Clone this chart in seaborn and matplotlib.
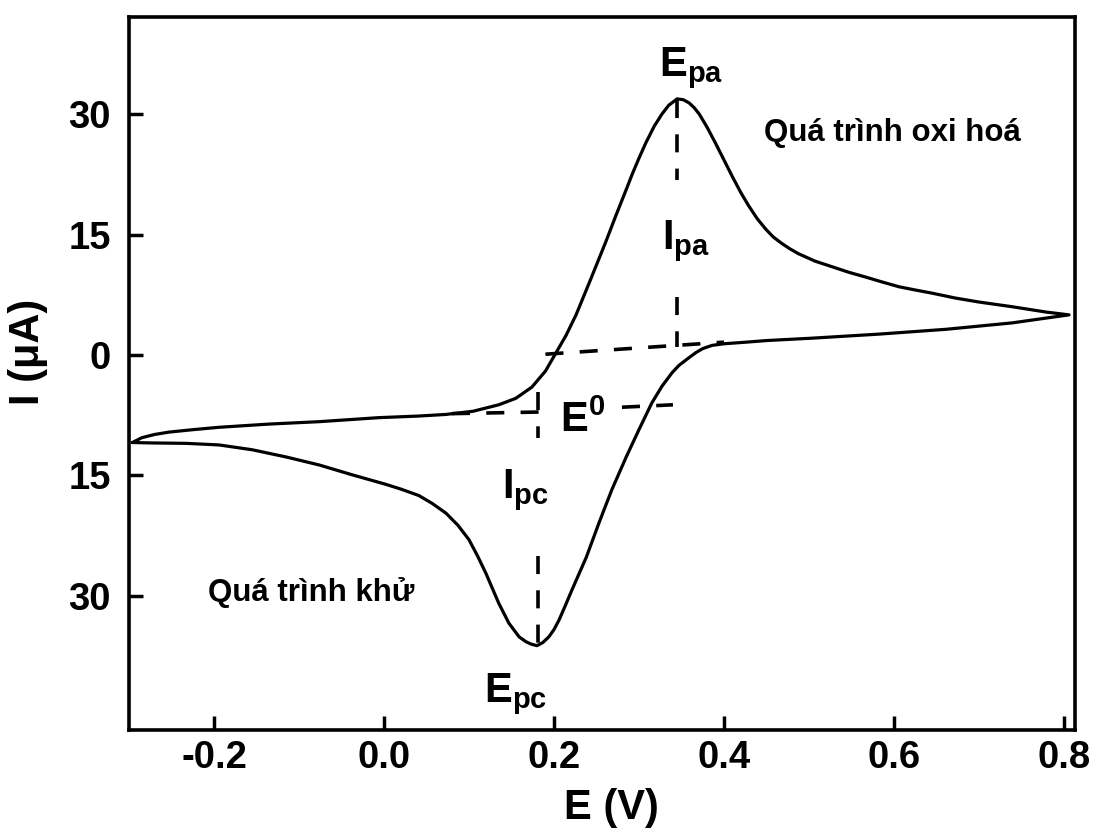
import numpy as np
import pandas as pd
import matplotlib
matplotlib.use('Agg')
import matplotlib.pyplot as plt
import seaborn as sns

# quét thuận (oxi hoá): E tăng dần
E_forward = [-0.296, -0.285, -0.270, -0.253, -0.225, -0.194, -0.135, -0.076, -0.006, 0.041,
             0.073, 0.105, 0.135, 0.155, 0.174, 0.190, 0.202, 0.214, 0.226, 0.240,
             0.253, 0.261, 0.273, 0.285, 0.292, 0.300, 0.308, 0.318, 0.327, 0.335,
             0.345, 0.352, 0.359, 0.365, 0.371, 0.380, 0.390, 0.400, 0.410, 0.420,
             0.429, 0.439, 0.449, 0.458, 0.468, 0.478, 0.488, 0.507, 0.527, 0.547,
             0.567, 0.586, 0.606, 0.625, 0.645, 0.672, 0.700, 0.740, 0.779, 0.806]
I_forward = [-10.9, -10.3, -9.9, -9.6, -9.3, -9.0, -8.6, -8.3, -7.8, -7.6,
             -7.4, -7.0, -6.2, -5.4, -4.0, -2.0, 0.2, 2.4, 5.0, 8.6,
             12.0, 14.1, 17.4, 20.6, 22.5, 24.5, 26.4, 28.5, 30.0, 31.1,
             31.9, 31.8, 31.4, 30.8, 30.0, 28.4, 26.4, 24.3, 22.2, 20.2,
             18.6, 17.0, 15.7, 14.7, 13.9, 13.2, 12.6, 11.7, 11.0, 10.3,
             9.7, 9.1, 8.5, 8.1, 7.7, 7.1, 6.6, 6.0, 5.35, 5.0]

# quét ngược (khử): E giảm dần
E_reverse = [0.806, 0.779, 0.739, 0.661, 0.582, 0.504, 0.450, 0.426, 0.400, 0.386,
             0.375, 0.367, 0.358, 0.347, 0.339, 0.327, 0.315, 0.300, 0.285, 0.268,
             0.253, 0.238, 0.221, 0.213, 0.206, 0.200, 0.194, 0.187, 0.180, 0.173,
             0.167, 0.159, 0.147, 0.135, 0.120, 0.110, 0.100, 0.087, 0.073, 0.057,
             0.041, 0.020, 0.002, -0.038, -0.076, -0.115, -0.155, -0.194, -0.233, -0.273,
             -0.296]
I_reverse = [5.0, 4.6, 4.0, 3.2, 2.6, 2.1, 1.8, 1.6, 1.4, 1.2,
             0.8, 0.3, -0.4, -1.3, -2.2, -3.9, -6.0, -9.3, -12.7, -16.8,
             -20.9, -25.2, -29.3, -31.3, -33.0, -34.2, -35.1, -35.8, -36.2, -36.0,
             -35.7, -35.1, -33.4, -30.9, -27.2, -25.0, -23.0, -21.2, -19.7, -18.5,
             -17.5, -16.7, -16.1, -14.9, -13.7, -12.7, -11.8, -11.2, -11.0, -10.95,
             -10.9]

# các đoạn nét đứt (E, I)
dash_E = [[0.345, 0.345], [0.345, 0.345], [0.19, 0.40],
          [0.181, 0.181], [0.181, 0.181], [0.08, 0.182], [0.28, 0.34]]
dash_I = [[31.8, 21.8], [7.2, 1.0], [0.1, 1.6],
          [-4.6, -10.3], [-25.0, -35.9], [-7.3, -7.1], [-6.5, -6.2]]

# nhãn trên đồ thị
label_text = [r'$\mathbf{E_{pa}}$', r'$\mathbf{I_{pa}}$', r'$\mathbf{E^{0}}$',
              r'$\mathbf{I_{pc}}$', r'$\mathbf{E_{pc}}$']
label_E = [0.362, 0.356, 0.234, 0.167, 0.155]
label_I = [35.7, 14.2, -8.2, -16.8, -42.2]

process_text = ['Quá trình oxi hoá', 'Quá trình khử']
process_E = [0.598, -0.086]
process_I = [27.6, -29.6]

x_ticks = [-0.2, 0.0, 0.2, 0.4, 0.6, 0.8]
y_ticks = [30, 15, 0, -15, -30]
y_tick_labels = ['30', '15', '0', '15', '30']

sns.set_style('ticks')
plt.rcParams['font.family'] = ['Liberation Sans', 'DejaVu Sans']
plt.rcParams['font.weight'] = 'bold'
plt.rcParams['text.color'] = 'black'
plt.rcParams['axes.labelcolor'] = 'black'
plt.rcParams['xtick.color'] = 'black'
plt.rcParams['ytick.color'] = 'black'
plt.rcParams['mathtext.fontset'] = 'custom'
plt.rcParams['mathtext.rm'] = 'Liberation Sans'
plt.rcParams['mathtext.bf'] = 'Liberation Sans:bold'
plt.rcParams['mathtext.it'] = 'Liberation Sans:italic'

df = pd.DataFrame({'E': E_forward + E_reverse, 'I': I_forward + I_reverse})

fig = plt.figure(figsize=(10.94, 8.32), dpi=100)
ax = fig.add_axes([0.1179, 0.1226, 0.8647, 0.857])

sns.lineplot(data=df, x='E', y='I', sort=False, estimator=None,
             color='black', linewidth=2.3, ax=ax)
for line in ax.get_lines():
    line.set_solid_joinstyle('round')

for xs, ys in zip(dash_E, dash_I):
    ax.plot(xs, ys, color='black', linewidth=2.6, dashes=(5.0, 4.5),
            solid_capstyle='butt')

for txt, x, y in zip(label_text, label_E, label_I):
    ax.text(x, y, txt, fontsize=30, ha='center', va='center', color='black')

for txt, x, y in zip(process_text, process_E, process_I):
    ax.text(x, y, txt, fontsize=22.5, fontweight='bold', ha='center', va='center')

ax.set_xlim(-0.30, 0.813)
ax.set_ylim(-46.7, 42.1)
ax.set_xticks(x_ticks)
ax.set_xticklabels([f'{v:.1f}' for v in x_ticks])
ax.set_yticks(y_ticks)
ax.set_yticklabels(y_tick_labels)
ax.tick_params(direction='in', length=10, width=2.5, labelsize=27.5, color='black')
ax.tick_params(axis='y', pad=13)
ax.tick_params(axis='x', pad=7)
for lab in ax.get_xticklabels() + ax.get_yticklabels():
    lab.set_fontweight('bold')

for sp in ax.spines.values():
    sp.set_linewidth(2.6)
    sp.set_color('black')

ax.set_xlabel('E (V)', fontsize=30, fontweight='bold')
ax.set_ylabel('I (μA)', fontsize=30, fontweight='bold')
ax.xaxis.set_label_coords(0.51, -0.082)
ax.yaxis.set_label_coords(-0.086, 0.53)

fig.savefig('out.png', dpi=100)
plt.close(fig)
